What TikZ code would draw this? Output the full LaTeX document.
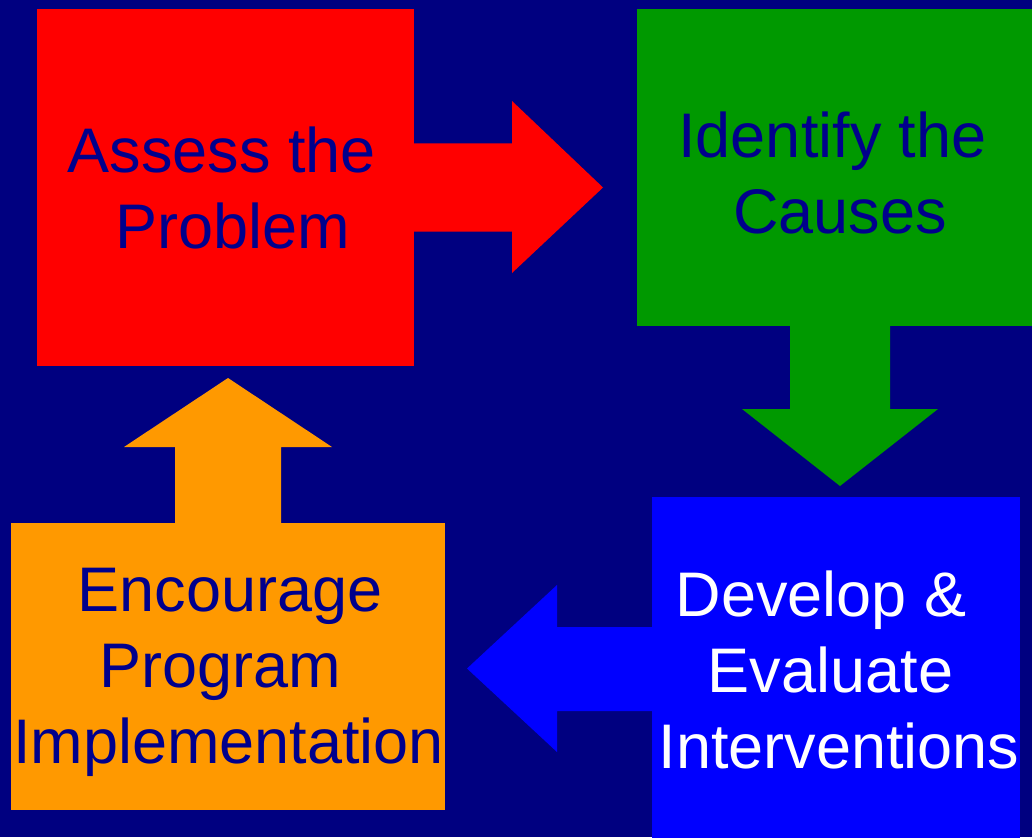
\documentclass[tikz,border=0pt]{standalone}
\usepackage{fontspec}
\setmainfont{Liberation Sans}
\definecolor{bg}{RGB}{0,0,128}
\definecolor{txt}{RGB}{0,0,140}
\definecolor{redc}{RGB}{255,0,0}
\definecolor{greenc}{RGB}{0,153,0}
\definecolor{bluec}{RGB}{0,0,255}
\definecolor{orangec}{RGB}{255,153,0}
\tikzset{
  box/.style={rectangle, inner sep=0pt, draw=none},
  lbl/.style={anchor=base, inner sep=0pt, font=\fontsize{63}{76}\selectfont, text=txt},
  wlbl/.style={lbl, text=white},
}
\begin{document}
\begin{tikzpicture}[x=1pt,y=-1pt]
\fill[bg] (0,0) rectangle (1032,837);
\useasboundingbox (0,0) rectangle (1032,837);

% block arrows
\fill[redc] (405,143.5) -- (512,143.5) -- (512,101) -- (603,187.5) -- (512,273) -- (512,231.5) -- (405,231.5) -- cycle;
\fill[greenc] (790,318) -- (790,409) -- (742,409) -- (840,486) -- (938,409) -- (890,409) -- (890,318) -- cycle;
\fill[bluec] (660,627) -- (557,627) -- (557,585) -- (467,668.5) -- (557,752) -- (557,711) -- (660,711) -- cycle;
\fill[orangec] (175,530) -- (175,447) -- (124,447) -- (228,378) -- (332,447) -- (281,447) -- (281,530) -- cycle;

% boxes
\node[box, fill=redc, minimum width=377pt, minimum height=357pt] (red) at (225.5,187.5) {};
\node[box, fill=greenc, minimum width=396pt, minimum height=317pt] (green) at (835,167.5) {};
\node[box, fill=bluec, minimum width=368pt, minimum height=341pt] (blue) at (836,667.5) {};
\node[box, fill=orangec, minimum width=434pt, minimum height=287pt] (orange) at (228,666.5) {};

% labels
\node[lbl] (r1) at (222,172) {Assess the};
\node[lbl] (r2) at (233,248) {Problem};
\node[lbl] (g1) at (832.5,157.5) {Identify the};
\node[lbl] (g2) at (840,233) {Causes};
\node[wlbl] (b1) at (821,616) {Develop \&};
\node[wlbl] (b2) at (830.5,692) {Evaluate};
\node[wlbl] (b3) at (839,768) {Interventions};
\node[lbl] (o1) at (230,611) {Encourage};
\node[lbl] (o2) at (220,687) {Program};
\node[lbl] (o3) at (228.5,763) {Implementation};
\end{tikzpicture}
\end{document}
